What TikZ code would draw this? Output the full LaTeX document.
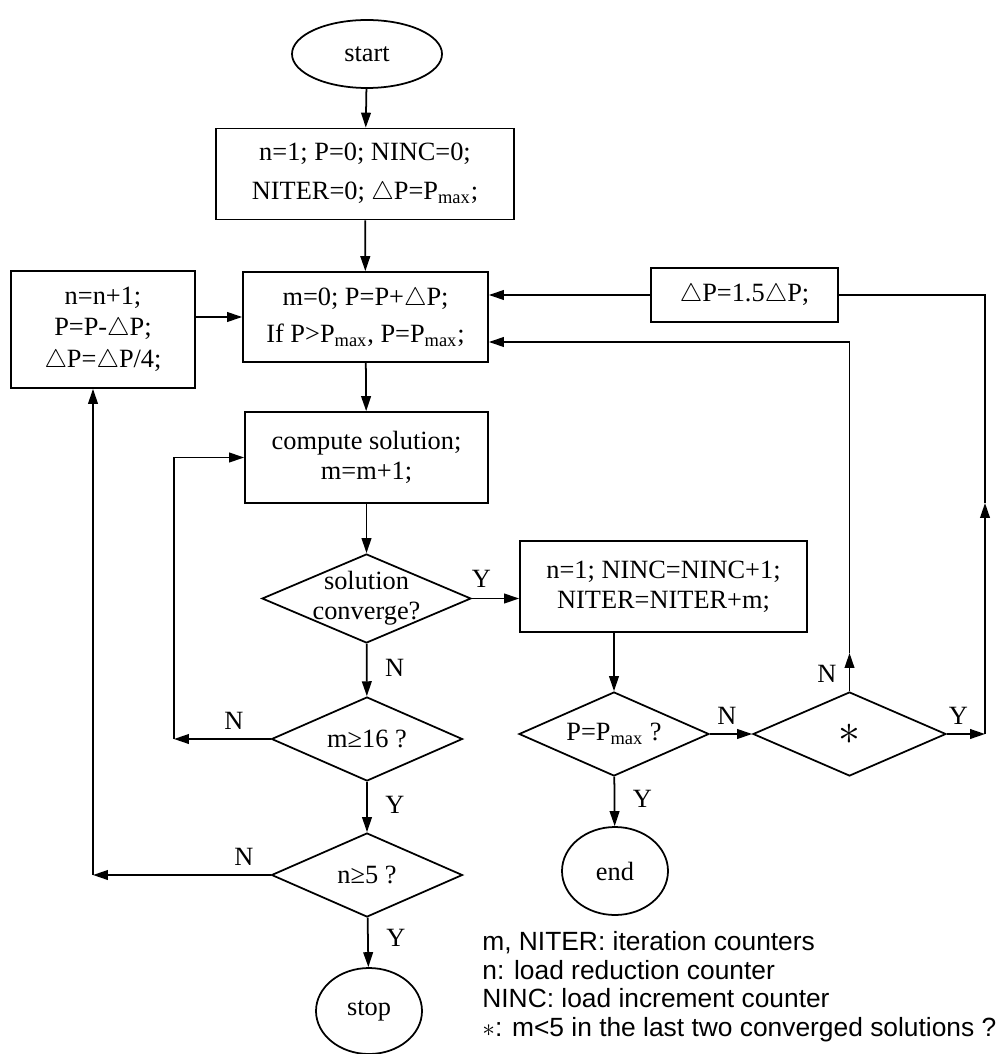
\documentclass[tikz,border=0pt]{standalone}
\usepackage{fontspec}
\setmainfont{Liberation Serif}
\setsansfont{Liberation Sans}
\usetikzlibrary{shapes.geometric,arrows.meta}
\newcommand{\dtri}{\ensuremath{\triangle}}
\newcommand{\Pmax}{P\textsubscript{max}}

\begin{document}
\begin{tikzpicture}[>={Triangle[length=8.5pt,width=5.5pt]}]
    % Define a style for all nodes
    \tikzstyle{box} = [draw, rectangle, line width=1pt, inner sep=0pt, align=center, font=\fontsize{15}{17}\selectfont]
    \tikzstyle{term} = [draw, ellipse, line width=1pt, inner sep=0pt, font=\fontsize{15}{17}\selectfont]
    \tikzstyle{test} = [draw, diamond, line width=1pt, inner sep=0pt, minimum width=3.82cm, minimum height=1.68cm]
    \tikzstyle{dtext} = [align=center, inner sep=0pt, font=\fontsize{15}{17}\selectfont]
    \tikzstyle{yn} = [inner sep=2pt, font=\fontsize{15}{17}\selectfont]
    \tikzstyle{flow} = [->, line width=1pt]

    \useasboundingbox (0,0) rectangle (20.08,-21.08);

    % Nodes
    \node[term, minimum width=3.0cm, minimum height=1.36cm] (start) at (7.34,-1.08) {start};
    \node[box, minimum width=5.96cm, minimum height=1.82cm] (init) at (7.30,-3.48) {n=1; P=0; NINC=0;\\[5pt] NITER=0; \dtri P=\Pmax;};
    \node[box, minimum width=4.9cm, minimum height=1.8cm] (incr) at (7.31,-6.34) {m=0; P=P+\dtri P;\\[4pt] If P>\Pmax, P=\Pmax;};
    \node[box, minimum width=3.68cm, minimum height=2.34cm] (reduce) at (2.06,-6.59) {n=n+1;\\[1pt] P=P-\dtri P;\\[1pt] \dtri P=\dtri P/4;};
    \node[box, minimum width=3.74cm, minimum height=1.08cm] (grow) at (14.89,-5.90) {\dtri P=1.5\dtri P;};
    \node[box, minimum width=4.86cm, minimum height=1.82cm] (compute) at (7.33,-9.15) {compute solution;\\ m=m+1;};
    \node[test, minimum width=4.18cm, minimum height=1.78cm, label={[dtext]center:{solution\\converge?}}] (conv) at (7.33,-11.97) {};
    \node[box, minimum width=5.74cm, minimum height=1.82cm] (update) at (13.27,-11.73) {n=1; NINC=NINC+1;\\ NITER=NITER+m;};
    \node[test, label={[dtext]center:{m≥16 ?}}] (mchk) at (7.34,-14.78) {};
    \node[test, label={[dtext]center:{n≥5 ?}}] (nchk) at (7.34,-17.50) {};
    \node[term, minimum width=2.12cm, minimum height=1.72cm] (halt) at (7.38,-20.22) {stop};
    \node[test, minimum width=3.80cm, label={[dtext]center:{P=\Pmax\ ?}}] (pchk) at (12.28,-14.68) {};
    \node[test, minimum width=3.86cm, label={[dtext, font=\fontsize{24}{24}\selectfont]center:{$\ast$}}] (star) at (16.99,-14.68) {};
    \node[term, minimum width=2.12cm, minimum height=1.76cm] (finish) at (12.30,-17.42) {end};
    \node[anchor=north west, align=left, inner sep=0pt, font=\sffamily\fontsize{15}{16.3}\selectfont] (legend) at (9.64,-18.62) {m, NITER: iteration counters\\ n: load reduction counter\\ NINC: load increment counter\\ $\ast$: m<5 in the last two converged solutions ?};

    % Corner points of the loops
    \coordinate (mloop) at (3.48,-14.78);
    \coordinate (nloop) at (1.86,-17.50);
    \coordinate (nup) at (16.99,-13.06);
    \coordinate (nret) at (16.99,-6.84);
    \coordinate (yc) at (19.70,-14.68);
    \coordinate (yup) at (19.70,-10.06);

    % Edges with arrows
    \draw[flow] (start) -- (init);
    \draw[flow] (init) -- (incr);
    \draw[flow] (incr) -- (compute);
    \draw[flow] (compute) -- (conv);
    \draw[flow] (reduce.east |- incr) -- (incr.west);
    \draw[flow] (grow) -- (grow -| incr.east);
    \draw[flow] (conv.east) -- node[yn, above=4pt, pos=0.2] {Y} (conv.east -| update.west);
    \draw[flow] (conv) -- node[yn, right=8pt, pos=0.45] {N} (mchk);
    \draw[flow] (mchk) -- node[yn, right=8pt, pos=0.45] {Y} (nchk);
    \draw[flow] (nchk) -- node[yn, right=8pt, pos=0.4] {Y} (halt);
    \draw[flow] (mchk) -- node[yn, above=3pt, pos=0.38] {N} (mloop);
    \draw[flow] (mloop) |- (compute);
    \draw[flow] (nchk) -- node[yn, above=3pt, pos=0.15] {N} (nloop);
    \draw[flow] (nloop) -- (nloop |- reduce.south);
    \draw[flow] (update.south -| pchk.north) -- (pchk.north);
    \draw[flow] (pchk) -- node[yn, above=3pt, pos=0.4] {N} (star);
    \draw[flow] (pchk) -- node[yn, right=8pt, pos=0.45] {Y} (finish);
    \draw[flow] (star) -- node[yn, left=5pt, pos=0.45] {N} (nup);
    \draw[flow] (nup) -- (nret) -- (nret -| incr.east);
    \draw[flow] (star) -- node[yn, above=3pt, pos=0.3] {Y} (yc);
    \draw[flow] (yc) -- (yup);
    \draw[line width=1pt] (yup) |- (grow);
\end{tikzpicture}
\end{document}
